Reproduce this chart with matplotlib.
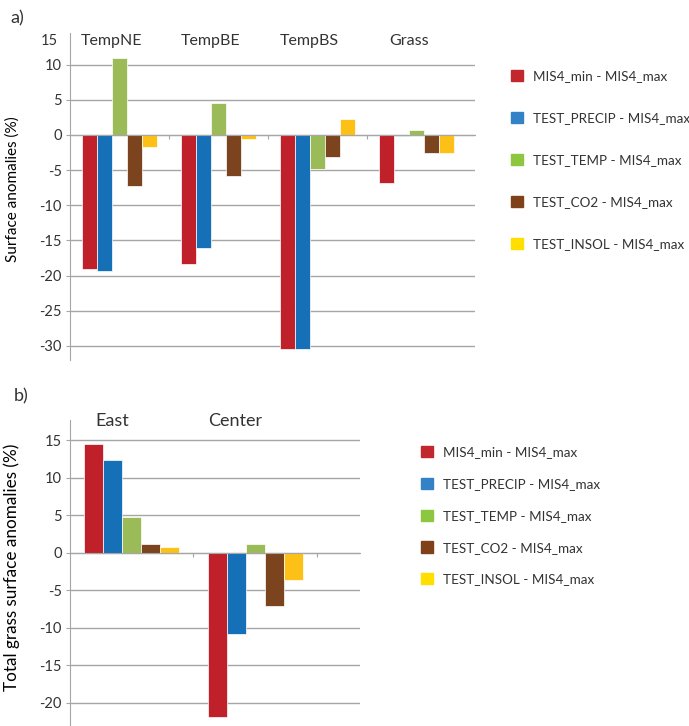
import matplotlib.pyplot as plt
from matplotlib.patches import Patch

plt.rcParams['font.family'] = ['Lato', 'DejaVu Sans']
plt.rcParams['text.color'] = '#333333'

# series names and colours
series = ['MIS4_min - MIS4_max', 'TEST_PRECIP - MIS4_max', 'TEST_TEMP - MIS4_max',
          'TEST_CO2 - MIS4_max', 'TEST_INSOL - MIS4_max']
bar_colors = ['#C0202A', '#1570B8', '#9BBB59', '#7B431E', '#FCC016']
key_colors = ['#C1272D', '#3381C6', '#8DC63F', '#7F4119', '#FFDE00']

# a) PFT surface anomalies (%)
pft = ['TempNE', 'TempBE', 'TempBS', 'Grass']
min_max = [-19.0, -18.3, -30.4, -6.8]
precip_a = [-19.4, -16.1, -30.4, -0.2]
temp_a = [11.0, 4.5, -4.8, 0.7]
co2_a = [-7.3, -5.9, -3.2, -2.6]
insol_a = [-1.7, -0.6, 2.3, -2.5]

# b) total grass surface anomalies (%)
region = ['East', 'Center']
min_max_b = [14.5, -21.9]
precip_b = [12.4, -10.9]
temp_b = [4.7, 1.1]
co2_b = [1.2, -7.1]
insol_b = [0.7, -3.6]

grid_c = '#A6A6A6'


def bars(ax, cats, vals, width):
    n = len(vals)
    for k, (v, c) in enumerate(zip(vals, bar_colors)):
        xs = [i + (k - (n - 1) / 2) * width for i in range(len(cats))]
        ax.bar(xs, v, width, color=c, edgecolor='white', linewidth=0.5, zorder=2)


def style(ax, ncat, yticks):
    for v in yticks:
        ax.axhline(v, color=grid_c, lw=1, zorder=0)
    for s in ['top', 'right']:
        ax.spines[s].set_visible(False)
    ax.spines['left'].set_color(grid_c)
    ax.spines['bottom'].set_position(('data', 0))
    ax.spines['bottom'].set_color(grid_c)
    ax.set_xticks([i + 0.5 for i in range(ncat - 1)])
    ax.set_xticklabels([])
    ax.set_yticks(yticks)
    ax.set_yticklabels([str(v) for v in yticks])
    ax.tick_params(axis='both', length=3, color=grid_c, labelsize=10.5, labelcolor='#333333')
    ax.tick_params(axis='y', pad=3)


def key(ax, x, y, spacing):
    ax.legend([Patch(color=c) for c in key_colors], series, loc='upper left',
              bbox_to_anchor=(x / 689, 1 - y / 726), bbox_transform=fig.transFigure,
              frameon=False, fontsize=9.7, borderpad=0, borderaxespad=0,
              labelspacing=spacing, handlelength=0.9, handleheight=0.9, handletextpad=0.75)


fig = plt.figure(figsize=(6.89, 7.26), dpi=100)

# ---- panel a
ax = fig.add_axes([70 / 689, 1 - 360 / 726, 405 / 689, 327 / 726])
bars(ax, pft, [min_max, precip_a, temp_a, co2_a, insol_a], 0.152)
ax.set_xlim(-0.5, 3.59)
ax.set_ylim(-32, 14.5)
style(ax, len(pft), list(range(-30, 11, 5)))
ax.text(-0.03, 13.3, '15', transform=ax.get_yaxis_transform(), ha='right', va='center',
        fontsize=10.5)
for i, name in enumerate(pft):
    ax.text(i - 0.08, 13.3, name, ha='center', va='center', fontsize=11.5)
ax.set_ylabel('Surface anomalies (%)', fontsize=11)
ax.yaxis.set_label_coords(-0.123, 0.523)
fig.text(10 / 689, 1 - 18 / 726, 'a)', fontsize=13, va='center')
key(ax, 511, 70, 2.2)

# ---- panel b
ax = fig.add_axes([70 / 689, 1 - 725 / 726, 290 / 689, 305 / 726])
bars(ax, region, [min_max_b, precip_b, temp_b, co2_b, insol_b], 0.154)
ax.set_xlim(-0.5, 1.85)
ax.set_ylim(-23, 17.7)
style(ax, 3, list(range(-20, 16, 5)))
for i, name in enumerate(region):
    ax.text(i - 0.16, 17.6, name, ha='center', va='center', fontsize=13)
ax.set_ylabel('Total grass surface anomalies (%)', fontsize=12.3)
ax.yaxis.set_label_coords(-0.172, 0.518)
fig.text(14 / 689, 1 - 396 / 726, 'b)', fontsize=13, va='center')
key(ax, 421, 446, 1.45)

fig.savefig('out.png', dpi=100)
